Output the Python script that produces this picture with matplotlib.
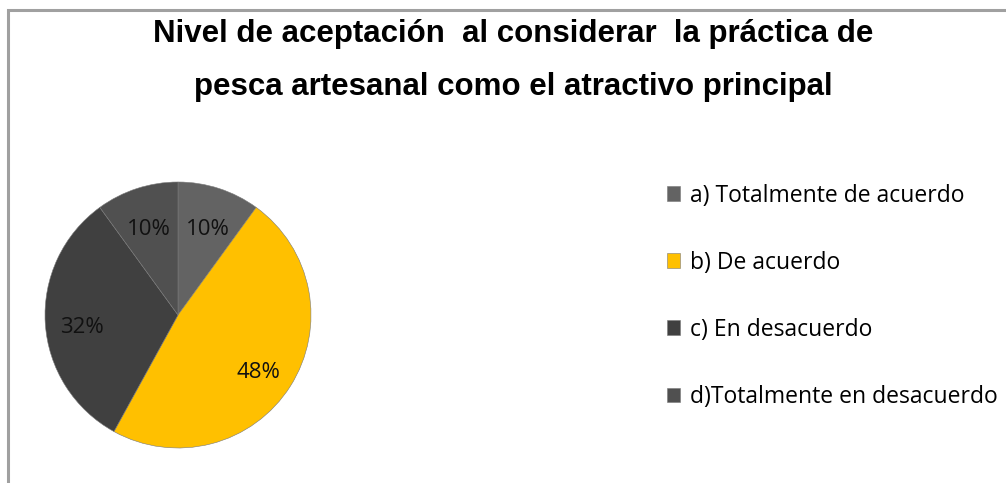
import matplotlib.pyplot as plt
from matplotlib.patches import Rectangle
from matplotlib.transforms import offset_copy

categorias = ['a) Totalmente de acuerdo', 'b) De acuerdo', 'c) En desacuerdo',
              'd)Totalmente en desacuerdo']
valores = [10, 48, 32, 10]
colores = ['#636363', '#FFC000', '#404040', '#505050']

W, H = 1006, 483
fig = plt.figure(figsize=(W / 100, H / 100), dpi=100)

# marco gris del gráfico (solo arriba e izquierda visibles)
fig.patches.append(Rectangle((8 / W, -0.1), 1.2, (H - 10) / H + 0.1,
                             transform=fig.transFigure, fill=False,
                             edgecolor='#a0a0a0', linewidth=2.2))

fig.text(513 / W, 1 - 34 / H, 'Nivel de aceptación  al considerar  la práctica de',
         ha='center', va='center', fontsize=22.5, fontweight='bold',
         family='Liberation Sans')
fig.text(513 / W, 1 - 87 / H, 'pesca artesanal como el atractivo principal',
         ha='center', va='center', fontsize=22.5, fontweight='bold',
         family='Liberation Sans')

r = 133
ax = fig.add_axes([(178 - r) / W, (H - 315 - r) / H, 2 * r / W, 2 * r / H])
wedges, textos, pcts = ax.pie(valores, colors=colores, startangle=90, counterclock=False,
                              autopct='%d%%', pctdistance=0.72,
                              wedgeprops=dict(edgecolor='#7a7a7a', linewidth=0.4),
                              textprops=dict(fontsize=16, family='Open Sans', color='#111111'))
# etiquetas un poco más abajo, como en el original
for t in pcts:
    t.set_transform(offset_copy(ax.transData, fig=fig, x=0, y=-6, units='dots'))
ax.set_aspect('equal')
ax.set_xlim(-1, 1)
ax.set_ylim(-1, 1)

fig.legend(wedges, categorias, loc='upper left', bbox_to_anchor=(646 / W, 1 - 163 / H),
           frameon=False, handlelength=0.6, handleheight=0.6, handletextpad=0.4,
           labelspacing=1.88, prop=dict(family='Open Sans', size=16.5))

fig.savefig('out.png', dpi=100)
